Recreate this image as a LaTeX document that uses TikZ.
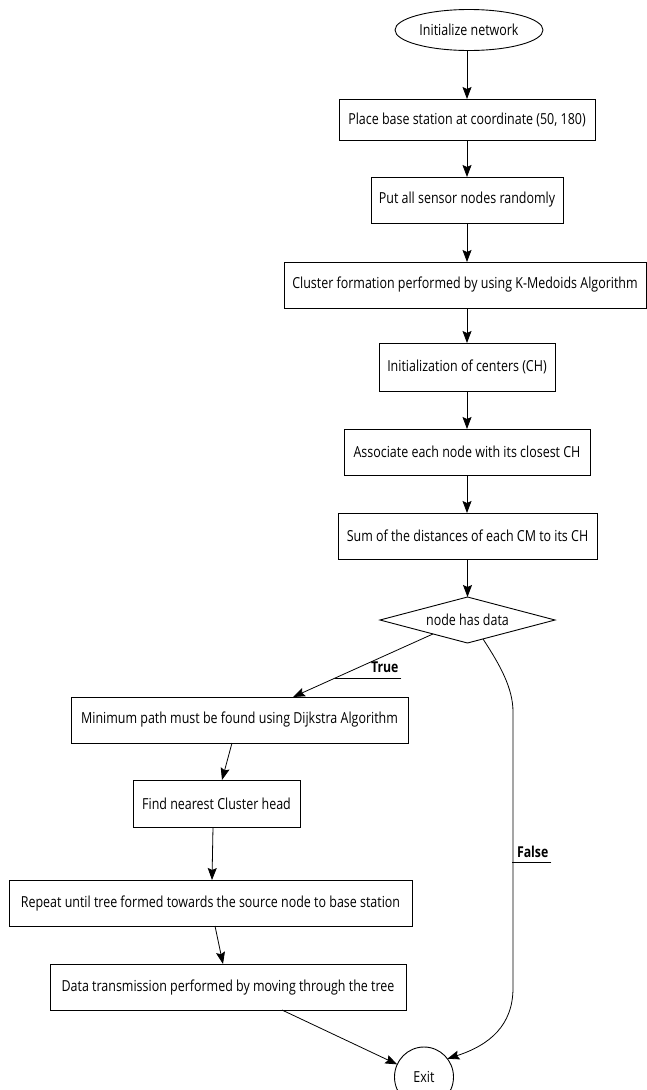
\documentclass[tikz,border=0pt]{standalone}
\usepackage{fontspec}
\setmainfont{Open Sans}[FakeStretch=0.82]
\usetikzlibrary{shapes.geometric,arrows.meta,calc}
\begin{document}
\begin{tikzpicture}[x=1pt,y=-1pt,
  every node/.style={font=\fontsize{15.2}{18}\selectfont, inner sep=0pt, outer sep=0pt},
  box/.style={draw, line width=0.9pt, rectangle, fill=white},
  oval/.style={draw, line width=0.9pt, ellipse, fill=white},
  decision/.style={draw, line width=0.9pt, diamond, aspect=3.8, fill=white},
  flow/.style={draw, line width=0.8pt, -{Stealth[length=12pt,width=9pt,inset=2pt]}},
  lab/.style={font=\fontsize{15}{18}\selectfont\bfseries, anchor=base west},
  uline/.style={draw, line width=0.8pt}
]
\fill[white] (0,0) rectangle (646,1090);
\useasboundingbox (0,0) rectangle (646,1090);

\node[oval, minimum width=148pt, minimum height=41pt] (init) at (469,30) {Initialize network};
\node[box, minimum width=256pt, minimum height=41pt] (place) at (467,119.5) {Place base station at coordinate (50, 180)};
\node[box, minimum width=192pt, minimum height=46pt] (put) at (467,200) {Put all sensor nodes randomly};
\node[box, minimum width=362pt, minimum height=46pt] (clus) at (465,285) {Cluster formation performed by using K-Medoids Algorithm};
\node[box, minimum width=176pt, minimum height=48pt] (cent) at (467,367) {Initialization of centers (CH)};
\node[box, minimum width=246pt, minimum height=46pt] (assoc) at (467,452) {Associate each node with its closest CH};
\node[box, minimum width=259pt, minimum height=46pt] (sum) at (467.5,536) {Sum of the distances of each CM to its CH};
\node[decision, minimum width=175pt, minimum height=46pt] (dec) at (467.5,620) {node has data};
\node[box, minimum width=337pt, minimum height=46pt] (minp) at (239.5,720) {Minimum path must be found using Dijkstra Algorithm};
\node[box, minimum width=167pt, minimum height=47pt] (find) at (216.5,803.5) {Find nearest Cluster head};
\node[box, minimum width=403pt, minimum height=46pt] (rep) at (210.5,903) {Repeat until tree formed towards the source node to base station};
\node[box, minimum width=356pt, minimum height=46pt] (data) at (228,987) {Data transmission performed by moving through the tree};
\node[oval, minimum width=59pt, minimum height=60pt] (exit) at (424,1077) {Exit};

\path[flow] (init.south -| place.north) -- (place.north);
\path[flow] (place) -- (put);
\path[flow] (put) -- (put.south |- clus.north);
\path[flow] (cent.north |- clus.south) -- (cent.north);
\path[flow] (cent) -- (assoc);
\path[flow] (assoc) -- (assoc.south |- sum.north);
\path[flow] (sum.south -| dec.north) -- (dec.north);

\coordinate (tstart) at ($(dec.south)!0.394!(dec.west)$);
\coordinate (fstart) at ($(dec.south)!0.177!(dec.east)$);
\path[flow] (tstart) -- ([xshift=53.5pt]minp.north);
\path[flow] ([xshift=-7.5pt]minp.south) -- ([xshift=5.5pt]find.north);
\path[flow] ([xshift=-3.5pt]find.south) -- ([xshift=1.5pt]rep.north);
\path[flow] ([xshift=4.5pt]rep.south) -- ([xshift=-5pt]data.north);
\path[flow] ([xshift=54pt]data.south) -- (exit);

\coordinate (fv1) at (513,712);
\coordinate (fv2) at (513,988);
\path[flow] (fstart) .. controls (500,665) and (513,688) .. (fv1) -- (fv2) .. controls (513,1025) and (490,1045) .. (exit.38);

\node[lab] (tlab) at (371,672) {True};
\path[uline] ([xshift=3pt,yshift=-6pt]tlab.base east) -- ++(-66,0);
\node[lab] (flab) at (517,857) {False};
\path[uline] ([xshift=3pt,yshift=-5pt]flab.base east) -- ++(-39,0);
\end{tikzpicture}
\end{document}
